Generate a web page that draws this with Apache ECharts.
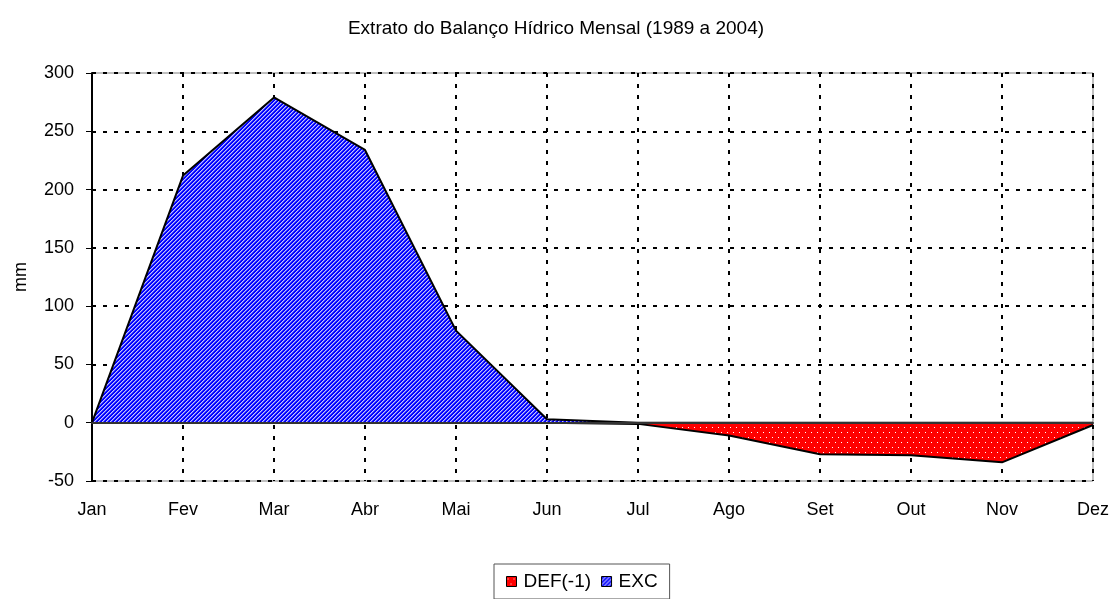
<!DOCTYPE html>
<html>
<head>
<meta charset="utf-8">
<script src="https://cdn.jsdelivr.net/npm/echarts@6/dist/echarts.min.js"></script>
<style>
  html, body { margin: 0; padding: 0; background: #fff; }
  #main { width: 1112px; height: 599px; }
</style>
</head>
<body>
<div id="main"></div>
<script>
// chart data
var months = ["Jan", "Fev", "Mar", "Abr", "Mai", "Jun", "Jul", "Ago", "Set", "Out", "Nov", "Dez"];
var defVals = [0, 0, 0, 0, 0, 0, -1, -11, -27, -28, -34, -2];
var excVals = [0, 212, 279, 234, 79, 3, 0, 0, 0, 0, 0, 0];
var seriesNames = ["DEF(-1)", "EXC"];
var yMin = -50, yMax = 300, yStep = 50;

// hatch fills like the old spreadsheet patterns
function stripes() {
    var c = document.createElement("canvas");
    c.width = 4; c.height = 4;
    var g = c.getContext("2d");
    g.fillStyle = "#0000ff";
    g.fillRect(0, 0, 4, 4);
    for (var i = 0; i < 4; i++) {
        g.fillStyle = "#c0c0ff";
        g.fillRect(i, 3 - i, 1, 1);
        g.fillStyle = "#6060ff";
        g.fillRect((i + 1) % 4, 3 - i, 1, 1);
    }
    return c;
}
function dots() {
    var c = document.createElement("canvas");
    c.width = 6; c.height = 10;
    var g = c.getContext("2d");
    g.fillStyle = "#ff0000";
    g.fillRect(0, 0, 6, 10);
    g.fillStyle = "#ffffff";
    g.fillRect(1, 2, 1, 1);
    g.fillRect(4, 7, 1, 1);
    return c;
}
var redFill = { image: dots(), repeat: "repeat" };
var blueFill = { image: stripes(), repeat: "repeat" };

var font = "'Liberation Sans', Arial, sans-serif";
var dotted = { color: "#000", width: 2, type: [4, 7] };

var chart = echarts.init(document.getElementById("main"));
chart.setOption({
    animation: false,
    textStyle: { fontFamily: font, color: "#000" },
    title: {
        text: "Extrato do Balanço Hídrico Mensal (1989 a 2004)",
        left: "center",
        top: 14,
        textStyle: { fontFamily: font, fontSize: 19, fontWeight: "normal", color: "#000" }
    },
    legend: {
        data: seriesNames,
        left: 494,
        top: 564,
        icon: "rect",
        itemWidth: 10,
        itemHeight: 10,
        itemGap: 10,
        padding: [8, 12],
        borderColor: "#555",
        borderWidth: 1,
        itemStyle: { borderColor: "#000", borderWidth: 1 },
        textStyle: { fontFamily: font, fontSize: 19, color: "#000", padding: [0, 0, 0, 2] }
    },
    grid: {
        left: 92, right: 18, top: 73, bottom: 118,
        show: true,
        borderColor: "#808080",
        borderWidth: 1
    },
    xAxis: [{
        type: "category",
        data: months,
        boundaryGap: false,
        axisLine: { show: false, onZero: false },
        axisTick: { show: false },
        axisLabel: { fontFamily: font, fontSize: 18, color: "#000", margin: 20 },
        splitLine: { show: true, lineStyle: dotted }
    }, {
        type: "category",
        data: months,
        boundaryGap: false,
        position: "bottom",
        z: 10,
        axisLine: { show: true, onZero: true, lineStyle: { color: "#333", width: 2 } },
        axisTick: { show: false },
        axisLabel: { show: false },
        splitLine: { show: false }
    }],
    yAxis: {
        type: "value",
        min: yMin,
        max: yMax,
        interval: yStep,
        name: "mm",
        nameLocation: "middle",
        nameGap: 62,
        nameTextStyle: { fontFamily: font, fontSize: 18, color: "#000" },
        axisLine: { show: true, lineStyle: { color: "#000", width: 2 } },
        axisTick: { show: true, length: 6, lineStyle: { color: "#000" } },
        axisLabel: { fontFamily: font, fontSize: 18, color: "#000", margin: 18 },
        splitLine: { show: true, lineStyle: dotted }
    },
    series: [{
        name: seriesNames[0],
        type: "line",
        data: defVals,
        symbol: "none",
        z: 2,
        itemStyle: { color: redFill },
        lineStyle: { color: "#000", width: 2 },
        areaStyle: { color: redFill, opacity: 1 }
    }, {
        name: seriesNames[1],
        type: "line",
        data: excVals,
        symbol: "none",
        z: 3,
        itemStyle: { color: blueFill },
        lineStyle: { color: "#000", width: 2 },
        areaStyle: { color: blueFill, opacity: 1 }
    }]
});
</script>
</body>
</html>
